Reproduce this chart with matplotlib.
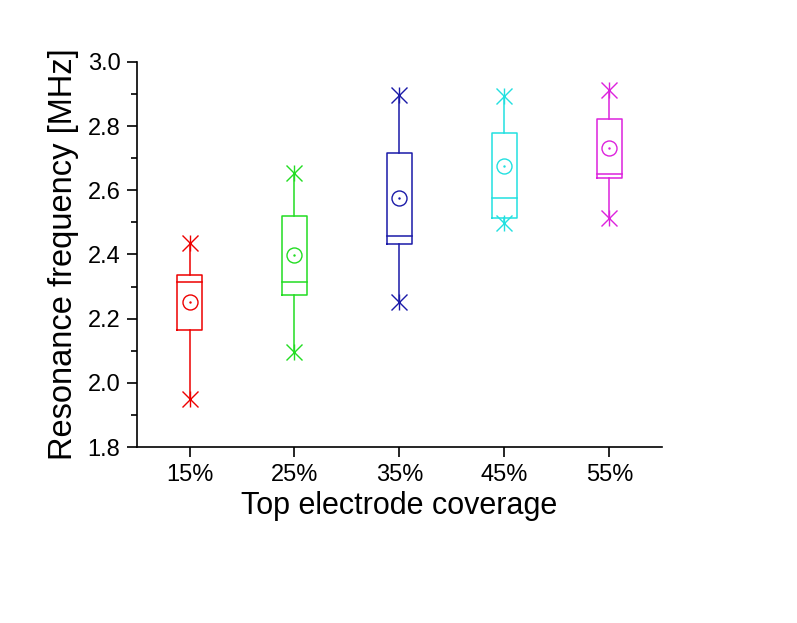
import numpy as np
import matplotlib
matplotlib.use('Agg')
import matplotlib.pyplot as plt
from matplotlib.ticker import MultipleLocator

plt.rcParams['font.family'] = ['Liberation Sans', 'DejaVu Sans']

categories = ['15%', '25%', '35%', '45%', '55%']
colors = ['#ee0000', '#22dd22', '#1a1aa8', '#22e0e0', '#dd22dd']

# (MHz)
whisker_hi = [2.436, 2.653, 2.897, 2.894, 2.913]
q3 = [2.336, 2.521, 2.717, 2.778, 2.821]
median = [2.313, 2.315, 2.459, 2.575, 2.650]
mean = [2.251, 2.398, 2.575, 2.676, 2.731]
q1 = [2.165, 2.274, 2.433, 2.513, 2.639]
whisker_lo = [1.951, 2.095, 2.253, 2.497, 2.515]

fig = plt.figure(figsize=(7.97, 6.23), dpi=100)
ax = fig.add_axes([0.1719, 0.2825, 0.6587, 0.618])

pos = np.arange(1, len(categories) + 1)
w = 0.24
for i, p in enumerate(pos):
    c = colors[i]
    lw = 1.1
    # box
    ax.plot([p - w/2, p + w/2, p + w/2, p - w/2, p - w/2],
            [q1[i], q1[i], q3[i], q3[i], q1[i]], color=c, lw=lw)
    ax.plot([p - w/2, p + w/2], [median[i], median[i]], color=c, lw=lw)
    # whiskers
    ax.plot([p, p], [q3[i], whisker_hi[i]], color=c, lw=lw)
    ax.plot([p, p], [q1[i], whisker_lo[i]], color=c, lw=lw)
    # min / max markers
    for m in ['x', '|']:
        ax.plot([p, p], [whisker_hi[i], whisker_lo[i]], ls='none', marker=m,
                ms=12, mew=1.0, color=c)
    # mean
    ax.plot(p, mean[i], marker='o', ms=10.8, mfc='none', mec=c, mew=1.0)
    ax.plot(p, mean[i], marker='.', ms=1.5, color=c)

ax.set_xlim(0.5, 5.5)
ax.set_ylim(1.8, 3.0)
ax.set_xticks(pos)
ax.set_xticklabels(categories)
ax.yaxis.set_major_locator(MultipleLocator(0.2))
ax.yaxis.set_minor_locator(MultipleLocator(0.1))
ax.yaxis.set_major_formatter(matplotlib.ticker.FormatStrFormatter('%.1f'))

ax.spines['top'].set_visible(False)
ax.spines['right'].set_visible(False)
for s in ['left', 'bottom']:
    ax.spines[s].set_linewidth(1.2)
ax.tick_params(axis='both', which='major', direction='out', length=7, width=1.2,
               labelsize=17, pad=5)
ax.tick_params(axis='y', which='minor', direction='out', length=4, width=1.2)

ax.set_xlabel('Top electrode coverage', fontsize=22, labelpad=4)
ax.set_ylabel('Resonance frequency [MHz]', fontsize=23.5, labelpad=6)

fig.savefig('out.png', dpi=100)
